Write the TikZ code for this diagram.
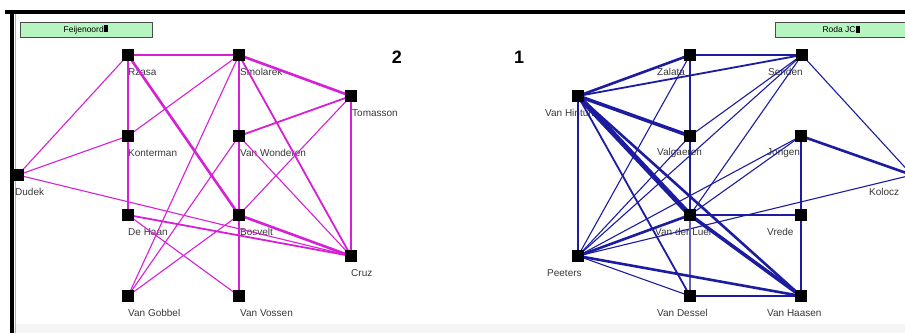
\documentclass[tikz,border=0pt]{standalone}
\usepackage{fontspec}
\setmainfont{Liberation Sans}
\definecolor{mag}{RGB}{214,32,214}
\definecolor{navy}{RGB}{28,28,160}
\definecolor{tabgreen}{RGB}{182,244,192}
\begin{document}
\begin{tikzpicture}[x=1pt,y=-1pt,
  sq/.style={fill=black,minimum size=12pt,inner sep=0pt,outer sep=0pt},
  lbl/.style={anchor=west,inner sep=0pt,font=\fontsize{10}{12}\selectfont,text=black!78},
  tab/.style={draw=black!70,line width=0.8pt,fill=tabgreen,inner sep=0pt,
    font=\fontsize{8.5}{10}\selectfont},
  num/.style={font=\fontsize{18}{20}\selectfont\bfseries,inner sep=0pt},
  w1/.style={line width=1.1pt},
  w2/.style={line width=1.8pt},
  w3/.style={line width=2.6pt},
  w4/.style={line width=3.6pt},
  w5/.style={line width=5pt}]
\useasboundingbox (0,0) rectangle (905,333);
\fill[white] (0,0) rectangle (905,333);
% window frame
\fill[black!4] (13,324) rectangle (905,333);
\fill[black] (5,9.5) rectangle (905,13.5);
\fill[black] (9.5,9.5) rectangle (13.5,333);
\draw[black!30,line width=1pt] (15,14) -- (15,333);

% team tabs and group numbers
\node[tab,minimum width=132pt,minimum height=15pt] (feyTab) at (86,29.5)
  {Feijenoord\rule{2pt}{7pt}\kern0.6pt\rule{2pt}{7pt}};
\node[tab,minimum width=140pt,minimum height=15pt,anchor=west] (rodaTab) at (775,29.5)
  {\hspace*{-8pt}Roda JC\rule{2pt}{7pt}\kern0.6pt\rule{2pt}{7pt}};
\node[num] (grp2) at (397,57) {2};
\node[num] (grp1) at (519,57) {1};

% ---------- Feijenoord network ----------
\foreach \n/\x/\y in {rz/128/55, sm/239/55, to/351/96, ko/128/136, vw/239/136,
    du/18/175, dh/128/215, bo/239/215, cr/351/256, vg/128/296, vv/239/296}
  \coordinate (\n) at (\x,\y);
\node[lbl] (rzL) at (128,72) {Rzasa};
\node[lbl] (smL) at (240,72) {Smolarek};
\node[lbl] (toL) at (352,113) {Tomasson};
\node[lbl] (koL) at (128,153) {Konterman};
\node[lbl] (vwL) at (240,153) {Van Wonderen};
\node[lbl] (duL) at (15,192) {Dudek};
\node[lbl] (dhL) at (128,232) {De Haan};
\node[lbl] (boL) at (240,232) {Bosvelt};
\node[lbl] (crL) at (351,273) {Cruz};
\node[lbl] (vgL) at (128,313) {Van Gobbel};
\node[lbl] (vvL) at (240,313) {Van Vossen};

\begin{scope}[mag]
  \draw[w1] (rz) -- (du);
  \draw[w1] (du) -- (ko);
  \draw[w1] (du) -- (cr);
  \draw[w1] (sm) -- (ko);
  \draw[w1] (sm) -- (vg);
  \draw[w1] (vw) -- (vg);
  \draw[w1] (to) -- (bo);
  \draw[w1] (vw) -- (cr);
  \draw[w1] (dh) -- (vv);
  \draw[w1] (vg) -- (bo);
  \draw[w2] (to) -- (vw);
  \draw[w2] (sm) -- (cr);
  \draw[w2] (dh) -- (cr);
  \draw[w3] (rz) -- (ko);
  \draw[w3] (ko) -- (dh);
  \draw[w3] (to) -- (cr);
  \draw[w3] (rz) -- (bo);
  \draw[w3] (sm) -- (vw);
  \draw[w3] (vw) -- (bo);
  \draw[w3] (bo) -- (vv);
  \draw[w3] (bo) -- (cr);
  \draw[w3] (rz) -- (sm);
  \draw[w3] (sm) -- (to);
\end{scope}
\foreach \n in {rz,sm,to,ko,vw,du,dh,bo,cr,vg,vv}
  \node[sq] (\n S) at (\n) {};

% ---------- Roda JC network ----------
\foreach \n/\x/\y in {za/690/55, se/802/55, vh/578/96, va/690/136, jo/801/136,
    kl/912/175, vl/690/215, vr/801/215, pe/578/256, ds/690/296, ho/801/296}
  \coordinate (\n) at (\x,\y);
\node[lbl] (zaL) at (657,72) {Zalata};
\node[lbl] (seL) at (768,72) {Senden};
\node[lbl] (vhL) at (545,113) {Van Hintum};
\node[lbl] (vaL) at (657,153) {Valgaeren};
\node[lbl] (joL) at (767,153) {Jongen};
\node[lbl] (klL) at (869,192) {Kolocz};
\node[lbl] (vlL) at (655,232) {Van der Luer};
\node[lbl] (vrL) at (767,232) {Vrede};
\node[lbl] (peL) at (547,273) {Peeters};
\node[lbl] (dsL) at (657,313) {Van Dessel};
\node[lbl] (hoL) at (767,313) {Van Haasen};

\begin{scope}[navy]
  \draw[w1] (za) -- (pe);
  \draw[w1] (se) -- (va);
  \draw[w1] (se) -- (pe);
  \draw[w1] (se) -- (vl);
  \draw[w1] (se) -- (kl);
  \draw[w1] (jo) -- (pe);
  \draw[w1] (jo) -- (vl);
  \draw[w1] (kl) -- (pe);
  \draw[w1] (pe) -- (va);
  \draw[w1] (pe) -- (ds);
  \draw[w1,navy!70] (vl) -- (ds);
  \draw[w2] (vh) -- (se);
  \draw[w2] (vh) -- (pe);
  \draw[w2] (vh) -- (ds);
  \draw[w2] (vl) -- (vr);
  \draw[w1] (jo) -- (vr);
  \draw[w1] (vr) -- (ho);
  \draw[w3] (za) -- (va);
  \draw[w3] (va) -- (vl);
  \draw[w3] (vh) -- (za);
  \draw[w3] (za) -- (se);
  \draw[w3] (jo) -- (kl);
  \draw[w3] (pe) -- (vl);
  \draw[w3] (pe) -- (ho);
  \draw[w3] (ds) -- (ho);
  \draw[w3] (vh) -- (ho);
  \draw[w4] (vh) -- (va);
  \draw[w4] (vl) -- (ho);
  \draw[w5] (vh) -- (vl);
\end{scope}
\foreach \n in {za,se,vh,va,jo,kl,vl,vr,pe,ds,ho}
  \node[sq] (\n S) at (\n) {};
\end{tikzpicture}
\end{document}
